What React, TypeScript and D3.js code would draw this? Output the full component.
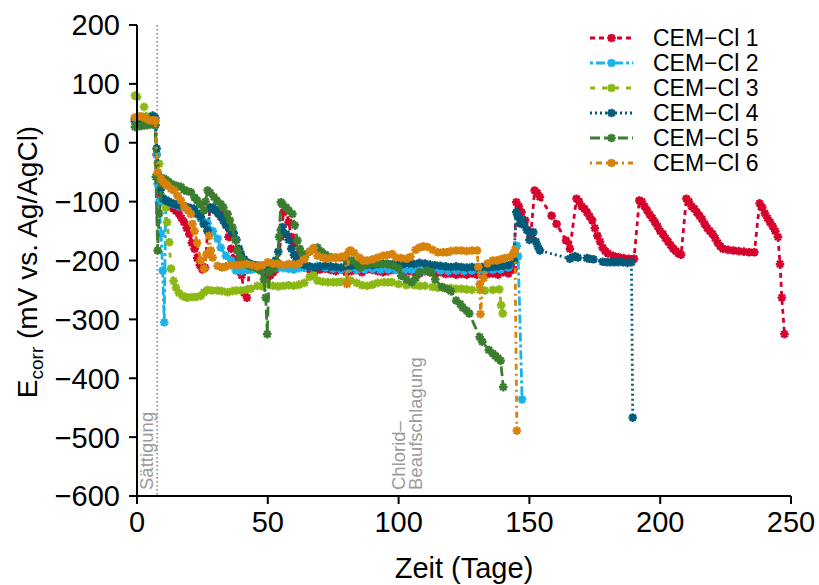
import React from "react";
import * as d3 from "d3";

type Pt = [number, number];

const seriesNames = ["CEM−Cl 1", "CEM−Cl 2", "CEM−Cl 3", "CEM−Cl 4", "CEM−Cl 5", "CEM−Cl 6"];
const seriesColors = ["#d5002b", "#1ab2ea", "#8cb814", "#005b7a", "#3b7d2f", "#d6820b"];
const seriesDash = ["5,4", "3,3,9,3", "5,7", "2,3", "10,4", "2,4,6,4"];

const xTicks = [0, 50, 100, 150, 200, 250];
const yTicks = [200, 100, 0, -100, -200, -300, -400, -500, -600];

const cemCl1: Pt[] = [
  [-0.8, 36], [1, 34], [2, 33], [3, 35], [4, 33], [5, 33], [6, 32], [7, 30], [7.5, -20], [8, -70], [9, -92], [10, -95],
  [11, -100], [12, -104], [13, -108], [14, -112], [15, -116], [16, -120], [17, -128], [18, -135], [19, -145], [20, -155],
  [21, -170], [22, -180], [23, -196], [24, -208], [25, -215], [26, -212], [27, -150], [28, -110], [29, -112], [30, -115],
  [31, -118], [32, -121], [33, -128], [34, -140], [35, -160], [36, -180], [37, -197], [38, -205], [39, -210], [40, -225],
  [41, -255], [42, -263], [43, -215], [44, -210], [45, -208], [46, -212], [47, -210], [48, -214], [49, -218], [50, -228],
  [51, -225], [52, -220], [53, -215], [54, -205], [55, -160], [56, -118], [57, -115], [58, -135], [59, -160], [60, -171],
  [61, -190], [62, -205], [64, -212], [66, -215], [68, -218], [70, -215], [72, -214], [74, -216], [76, -218], [78, -215],
  [80, -220], [82, -218], [84, -216], [86, -220], [88, -215], [90, -216], [92, -218], [94, -220], [96, -218], [98, -216],
  [100, -215], [102, -220], [104, -218], [106, -220], [108, -222], [110, -218], [112, -220], [114, -222], [116, -220],
  [118, -223], [120, -222], [122, -224], [124, -223], [126, -224], [128, -222], [130, -224], [132, -222], [134, -223],
  [136, -222], [138, -224], [140, -220], [142, -222], [144, -215], [145, -101], [146, -108], [147, -118], [148.4, -132],
  [149.5, -149], [150.5, -158], [152, -81], [153, -85], [154, -92], [158.5, -124], [160.4, -138], [164, -166], [165.5, -180],
  [168, -95], [169, -100], [170, -108], [171, -112], [172, -118], [173, -125], [174, -132], [175, -145], [176, -158],
  [177, -168], [178, -178], [179, -184], [180, -188], [182, -192], [184, -194], [186, -196], [188, -197], [189, -198],
  [190, -197], [192, -98], [193, -100], [194, -108], [195, -115], [196, -122], [197, -128], [198, -135], [199, -142],
  [200, -150], [201, -155], [202, -162], [203, -168], [204, -174], [205, -180], [206, -184], [207, -188], [208, -190],
  [210, -95], [211, -100], [212, -108], [213, -112], [214, -118], [215, -124], [216, -130], [217, -138], [218, -145],
  [219, -150], [220, -155], [221, -162], [222, -170], [223, -176], [224, -180], [226, -182], [228, -183], [230, -184],
  [232, -185], [234, -186], [236, -186], [238, -103], [239, -110], [240, -120], [241, -128], [242, -135], [243, -142],
  [244, -150], [245, -160], [245.8, -206], [246.5, -263], [247.5, -325],
];

const cemCl2: Pt[] = [
  [-0.8, 38], [1, 36], [2, 35], [3, 34], [4, 35], [5, 35], [6, 36], [7, 36], [7.5, -20], [8, -70], [8.4, -101], [9.2, -154],
  [9.8, -217], [10.4, -305], [11, -97], [12, -100], [13, -103], [14, -105], [16, -108], [18, -110], [20, -113], [21.8, -118],
  [22.5, -121], [24.4, -129], [26, -135], [27, -137], [29, -150], [30.8, -163], [32, -178], [34, -192], [36, -200],
  [37.8, -217], [40, -218], [42, -216], [44, -215], [46, -214], [48, -216], [50, -215], [52, -214], [54, -212], [56, -213],
  [58, -214], [60, -215], [62, -213], [64, -212], [67, -212], [69, -209], [72, -212], [75, -214], [78, -215], [81, -214],
  [84, -216], [87, -215], [90, -214], [93, -216], [96, -215], [99, -216], [102, -217], [105, -216], [108, -217], [110, -217],
  [113, -216], [116, -217], [119, -218], [122, -217], [125, -218], [128, -217], [131, -216], [133, -217], [136, -216],
  [139, -215], [142, -212], [144, -200], [144.5, -189], [145.2, -175], [145.7, -193], [147.2, -436],
];

const cemCl3: Pt[] = [
  [-0.8, 80], [0, 78], [2.7, 61], [3.5, 45], [4.5, 40], [5.5, 38], [6.5, 38], [7.9, -35], [8.5, -36], [9.5, -70],
  [11, -110], [11.5, -135], [12.3, -169], [13, -214], [14, -235], [14.9, -246], [16, -255], [17.4, -260], [18.5, -262],
  [19.3, -263], [21, -262], [22.5, -262], [24.4, -260], [25.6, -254], [27, -250], [28.5, -251], [30.8, -251], [32.5, -252],
  [34.6, -254], [36.5, -252], [38, -251], [39.7, -251], [41.5, -250], [43.5, -248], [46, -243], [48, -244], [50, -240],
  [52, -243], [54, -244], [56, -243], [58, -242], [60, -243], [62, -241], [64, -238], [66, -228], [67.5, -225],
  [69, -234], [71, -236], [73, -237], [75, -237], [76.5, -237], [78, -236], [80, -235], [81.6, -234], [84, -238],
  [86, -242], [88, -243], [90, -241], [92, -238], [94.3, -237], [96, -237], [97.5, -237], [100, -240], [103, -242],
  [106, -242], [108, -243], [110, -243], [113, -245], [115, -246], [117, -246], [120, -247], [122, -248], [124, -248],
  [126, -249], [128, -250], [131, -250], [133, -251], [136, -250], [138.5, -249], [139.2, -276], [139.8, -290],
];

const cemCl4: Pt[] = [
  [-0.8, 40], [1, 38], [2, 36], [3, 37], [4, 38], [5, 40], [6, 46], [7, 42], [7.5, -10], [8.4, -58], [9, -80], [10, -95],
  [11, -98], [12, -100], [13, -102], [14, -104], [15, -105], [16, -106], [17.4, -107], [18.5, -108], [19.5, -110],
  [20.5, -111], [21.8, -112], [23, -120], [24.4, -126], [25.5, -138], [27, -149], [28, -112], [29, -110], [30, -115],
  [31, -120], [32, -126], [33, -132], [34, -138], [35, -144], [36, -150], [37, -154], [38, -165], [39, -180],
  [39.7, -189], [41, -198], [42, -203], [43, -205], [44, -207], [45, -208], [46, -209], [47, -209], [48, -210],
  [49, -212], [50, -210], [51, -208], [52, -205], [53, -200], [54, -185], [55, -149], [55.6, -143], [57, -155], [58, -165],
  [59, -180], [60, -191], [61, -200], [62, -205], [64, -208], [66, -210], [68, -212], [70, -210], [72, -209], [74, -210],
  [76, -211], [78, -212], [80, -210], [82, -209], [84, -208], [86, -206], [88, -207], [90, -208], [92, -206], [94, -205],
  [96, -206], [98, -206], [100, -205], [102, -206], [104, -205], [106, -206], [108, -204], [110, -205], [112, -207],
  [114, -208], [116, -209], [118, -210], [120, -211], [122, -210], [124, -211], [126, -212], [128, -211], [130, -212],
  [132, -211], [134, -212], [136, -211], [138, -210], [140, -209], [142, -208], [144, -200], [145, -118], [145.6, -125],
  [146.4, -137], [147.2, -130], [148, -140], [149, -148], [150, -165], [151.5, -152], [152.5, -168], [153.2, -176],
  [154, -183], [165.5, -197], [166.5, -194], [167.5, -193], [168.5, -195], [172, -196], [173, -197], [174.5, -198],
  [178, -202], [179.5, -203], [181, -203], [182.5, -203], [184, -203], [185.8, -203], [187.5, -204], [189, -203],
  [189.5, -467],
];

const cemCl5: Pt[] = [
  [-0.8, 27], [1, 28], [2, 29], [3, 30], [4, 30], [5, 31], [6, 32], [7, 30], [7.2, -58], [7.9, -183], [8.5, -120],
  [9.5, -70], [10.3, -61], [11, -63], [12, -66], [13, -70], [14, -72], [15, -73], [16.8, -75], [18, -80], [19, -82],
  [20.6, -84], [22, -93], [23, -98], [24.3, -105], [25.6, -115], [26.2, -100], [27, -81], [28, -85], [29.4, -92],
  [30.5, -98], [32, -104], [33, -110], [34.6, -121], [35.5, -132], [36.5, -144], [37.5, -165], [38.4, -183], [39.3, -195],
  [40.3, -200], [41.5, -205], [42.5, -208], [43.5, -210], [44.5, -210], [45.5, -212], [46.5, -215], [47.5, -218],
  [48.5, -232], [49.2, -263], [49.8, -325], [50.5, -220], [51.5, -215], [52.5, -212], [53.5, -205], [54.3, -160],
  [55, -101], [55.6, -104], [57, -110], [58, -115], [59.4, -121], [60.3, -140], [61.3, -166], [62.2, -180], [63.2, -189],
  [64.5, -190], [66, -185], [67.5, -180], [69, -178], [70.5, -185], [72, -190], [74, -194], [76, -195], [77.8, -195],
  [80, -198], [82, -200], [84, -205], [85.4, -212], [87, -208], [89, -206], [91, -205], [93, -206], [95.6, -206],
  [98, -209], [100, -213], [101, -226], [103, -232], [105, -237], [106.5, -230], [108, -220], [110.8, -217], [112.5, -220],
  [114, -232], [116.6, -245], [118.5, -248], [120, -252], [122, -268], [123.6, -274], [124.5, -280], [126, -285],
  [127, -290], [131, -330], [132, -338], [134.5, -352], [136, -358], [137, -362], [138, -366], [139, -370], [140, -415],
];

const cemCl6: Pt[] = [
  [-0.8, 43], [1, 45], [2, 44], [3, 42], [4, 40], [5, 38], [6, 38], [7, 38], [7.9, -50], [9.2, -61], [10, -66],
  [11, -70], [11.7, -73], [13, -78], [14.2, -81], [15.5, -90], [16.8, -98], [18, -108], [19.5, -115], [20.6, -121],
  [21.2, -138], [22, -150], [23, -170], [24.4, -200], [25.6, -214], [26.5, -190], [27.6, -158], [28.2, -183],
  [28.9, -195], [30.8, -209], [32.5, -212], [34, -210], [36, -208], [38, -208], [40, -207], [42, -206], [44, -208],
  [46, -210], [48, -208], [50, -203], [52, -205], [54, -206], [56, -208], [58, -206], [60, -207], [62, -205], [64, -198],
  [66, -185], [67.5, -179], [69, -192], [71, -195], [72.7, -197], [74.5, -195], [76, -196], [78, -194], [79.5, -192],
  [80.3, -240], [81, -185], [81.6, -183], [83, -187], [85, -195], [86.5, -200], [88, -200], [90, -198], [92, -195],
  [94, -192], [95.6, -191], [97.5, -189], [99, -195], [101, -196], [103, -197], [104.5, -194], [106.5, -182], [108, -178],
  [109.5, -176], [111, -177], [113, -182], [115, -186], [117, -186], [118.5, -186], [120, -184], [122, -183], [124, -183],
  [126, -184], [128, -183], [130, -183], [130.5, -211], [131, -240], [131.3, -291], [132.5, -230], [134, -205], [136, -200],
  [137.5, -200], [139, -198], [140.5, -196], [142.6, -194], [143.8, -189], [144.5, -182], [145.2, -489],
];

const allSeries: Pt[][] = [cemCl1, cemCl2, cemCl3, cemCl4, cemCl5, cemCl6];

const W = 819;
const H = 585;
const x = d3.scaleLinear().domain([0, 250]).range([137, 791]);
const y = d3.scaleLinear().domain([-600, 200]).range([496, 25]);

const FONT = "'Liberation Sans', Arial, Helvetica, sans-serif";
const MR = 4.3;
const MD = 3.1;
const markerPath = `M${-MR},0H${MR}M0,${-MR}V${MR}M${-MD},${-MD}L${MD},${MD}M${-MD},${MD}L${MD},${-MD}`;

const lineGen = d3
  .line<Pt>()
  .x((d) => x(d[0]))
  .y((d) => y(d[1]));

export default function App() {
  const legendX0 = 590;
  const legendX1 = 633;
  const legendY0 = 38;
  const legendStep = 25;
  return (
    <svg width={W} height={H} style={{ display: "block", position: "absolute", left: 0, top: 0, background: "#fff" }}>
      <rect x={0} y={0} width={W} height={H} fill="#fff" />
      <line x1={x(7.7)} x2={x(7.7)} y1={y(200)} y2={y(-600)} stroke="#8a8a8a" strokeWidth={1.6} strokeDasharray="1.4,2.6" />
      <text transform={`translate(153,490) rotate(-90)`} fontFamily={FONT} fontSize={18.5} fill="#9a9a9a">
        Sättigung
      </text>
      <text transform={`translate(405,490) rotate(-90)`} fontFamily={FONT} fontSize={18.5} fill="#9a9a9a">
        Chlorid–
      </text>
      <text transform={`translate(422,490) rotate(-90)`} fontFamily={FONT} fontSize={18.5} fill="#9a9a9a">
        Beaufschlagung
      </text>

      {allSeries.map((s, i) => (
        <g key={i}>
          <path
            d={lineGen(s) || ""}
            fill="none"
            stroke={seriesColors[i]}
            strokeWidth={2.8}
            strokeDasharray={seriesDash[i]}
          />
          {s.map((p, j) => (
            <path
              key={j}
              d={markerPath}
              transform={`translate(${x(p[0])},${y(p[1])})`}
              stroke={seriesColors[i]}
              strokeWidth={2.3}
              fill="none"
            />
          ))}
        </g>
      ))}

      <line x1={x(0)} x2={x(0)} y1={y(200)} y2={y(-600)} stroke="#000" strokeWidth={2} />
      <line x1={x(0)} x2={x(250)} y1={y(-600)} y2={y(-600)} stroke="#000" strokeWidth={2} />
      {yTicks.map((t) => (
        <g key={t}>
          <line x1={x(0) - 8} x2={x(0)} y1={y(t)} y2={y(t)} stroke="#000" strokeWidth={2} />
          <text
            x={x(0) - 17}
            y={y(t)}
            dy="0.36em"
            textAnchor="end"
            fontFamily={FONT}
            fontSize={29}
            fill="#000"
          >
            {t < 0 ? `−${Math.abs(t)}` : `${t}`}
          </text>
        </g>
      ))}
      {xTicks.map((t) => (
        <g key={t}>
          <line x1={x(t)} x2={x(t)} y1={y(-600)} y2={y(-600) + 8} stroke="#000" strokeWidth={2} />
          <text x={x(t)} y={y(-600) + 36} textAnchor="middle" fontFamily={FONT} fontSize={29} fill="#000">
            {t}
          </text>
        </g>
      ))}
      <text x={(x(0) + x(250)) / 2} y={578} textAnchor="middle" fontFamily={FONT} fontSize={29} fill="#000">
        Zeit (Tage)
      </text>
      <text
        transform={`translate(37,262) rotate(-90)`}
        textAnchor="middle"
        fontFamily={FONT}
        fontSize={28}
        fill="#000"
      >
        E<tspan fontSize={19} dy={6}>corr</tspan>
        <tspan dy={-6}> (mV vs. Ag/AgCl)</tspan>
      </text>

      {seriesNames.map((n, i) => {
        const ly = legendY0 + i * legendStep;
        return (
          <g key={n}>
            <line
              x1={legendX0}
              x2={legendX1}
              y1={ly}
              y2={ly}
              stroke={seriesColors[i]}
              strokeWidth={2.8}
              strokeDasharray={seriesDash[i]}
            />
            <path
              d={markerPath}
              transform={`translate(${(legendX0 + legendX1) / 2},${ly})`}
              stroke={seriesColors[i]}
              strokeWidth={2.3}
              fill="none"
            />
            <text x={653} y={ly} dy="0.36em" fontFamily={FONT} fontSize={23} fill="#000">
              {n}
            </text>
          </g>
        );
      })}
    </svg>
  );
}
